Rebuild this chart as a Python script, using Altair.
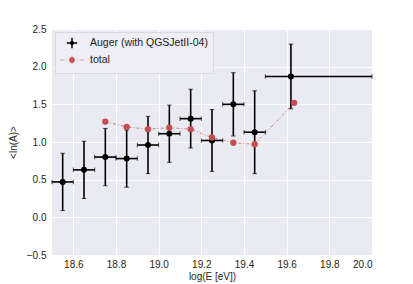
import altair as alt
import pandas as pd

# Auger data (with QGSJetII-04)
auger_x = [18.55, 18.65, 18.75, 18.85, 18.95, 19.05, 19.15, 19.25, 19.35, 19.45, 19.62]
auger_xlo = [18.5, 18.6, 18.7, 18.8, 18.9, 19.0, 19.1, 19.2, 19.3, 19.4, 19.5]
auger_xhi = [18.6, 18.7, 18.8, 18.9, 19.0, 19.1, 19.2, 19.3, 19.4, 19.5, 20.0]
auger_y = [0.47, 0.63, 0.80, 0.78, 0.96, 1.11, 1.31, 1.02, 1.50, 1.13, 1.87]
auger_err = [0.38, 0.38, 0.38, 0.38, 0.38, 0.38, 0.39, 0.41, 0.42, 0.55, 0.43]

# total model
total_x = [18.75, 18.85, 18.95, 19.05, 19.15, 19.25, 19.35, 19.45, 19.635]
total_y = [1.27, 1.20, 1.17, 1.19, 1.17, 1.06, 0.99, 0.97, 1.52]

series_names = ["Auger (with QGSJetII-04)", "total"]
x_ticks = [18.6, 18.8, 19.0, 19.2, 19.4, 19.6, 19.8, 20.0]
y_ticks = [-0.5, 0.0, 0.5, 1.0, 1.5, 2.0, 2.5]

RED = "#C44E52"

auger = pd.DataFrame({
    "x": auger_x, "xlo": auger_xlo, "xhi": auger_xhi, "y": auger_y,
    "ylo": [a - e for a, e in zip(auger_y, auger_err)],
    "yhi": [a + e for a, e in zip(auger_y, auger_err)],
})
total = pd.DataFrame({"x": total_x, "y": total_y})
legend_df = pd.DataFrame({"series": series_names, "x": [19.0, 19.0], "y": [0.0, 0.0]})

lab = "replace(format(datum.value, '.1f'), '-', '\u2212')"
xs = alt.Scale(domain=[18.5, 20.0], nice=False, zero=False)
ys = alt.Scale(domain=[-0.5, 2.5], nice=False, zero=False)
xax = alt.Axis(values=x_ticks, labelExpr=lab, title="log(E [eV])", grid=True,
               labelOverlap=False, labelPadding=4, titlePadding=2, tickCount=8)
yax = alt.Axis(values=y_ticks, labelExpr=lab, title="<ln(A)>", grid=True,
               labelOverlap=False, labelPadding=6, titlePadding=8, tickCount=7)


def XE(f):
    return alt.X(f"{f}:Q", scale=xs, axis=xax)


def YE(f):
    return alt.Y(f"{f}:Q", scale=ys, axis=yax)


base_a = alt.Chart(auger)
vbars = base_a.mark_rule(color="black", strokeWidth=1.6).encode(
    x=XE("x"), y=YE("ylo"), y2="yhi:Q")
hbars = base_a.mark_rule(color="black", strokeWidth=1.6).encode(
    x=XE("xlo"), x2="xhi:Q", y=YE("y"))
cap_lo = base_a.mark_tick(color="black", thickness=1, size=4.5, orient="horizontal").encode(
    x=XE("x"), y=YE("ylo"))
cap_hi = base_a.mark_tick(color="black", thickness=1, size=4.5, orient="horizontal").encode(
    x=XE("x"), y=YE("yhi"))
hcap_lo = base_a.mark_tick(color="black", thickness=1, size=4.5, orient="vertical").encode(
    x=XE("xlo"), y=YE("y"))
hcap_hi = base_a.mark_tick(color="black", thickness=1, size=4.5, orient="vertical").encode(
    x=XE("xhi"), y=YE("y"))
apts = base_a.mark_circle(color="black", size=36, opacity=1).encode(x=XE("x"), y=YE("y"))

base_t = alt.Chart(total)
tline = base_t.mark_line(color=RED, strokeWidth=1, strokeDash=[3, 2, 1, 2], opacity=0.7).encode(
    x=XE("x"), y=YE("y"))
tpts = base_t.mark_circle(color=RED, size=40, opacity=1).encode(x=XE("x"), y=YE("y"))


# legend symbols built only from filled shapes (thin rectangles + circle)
def circ(r):
    return f"M{r},0A{r},{r} 0 1 1 -{r},0A{r},{r} 0 1 1 {r},0Z"


auger_sym = "M-1,-0.14H1V0.14H-1ZM-0.14,-1H0.14V1H-0.14Z" + circ(0.42)
total_sym = ("M-2.3,-0.06H-1.5V0.06H-2.3Z"
             "M-1.2,-0.06H-1.0V0.06H-1.2Z"
             "M1.0,-0.06H1.2V0.06H1.0Z"
             "M1.5,-0.06H2.3V0.06H1.5Z"
             "M-0.04,-0.8H0.04V0.8H-0.04Z" + circ(0.55))

legend_layer = alt.Chart(legend_df).transform_filter("false").mark_point(filled=True, opacity=1).encode(
    x=XE("x"),
    y=YE("y"),
    color=alt.Color("series:N", scale=alt.Scale(domain=series_names, range=["black", RED]),
                    legend=alt.Legend(title=None, orient="top-left", offset=3,
                                      fillColor="#EEEEF4", strokeColor="#DADAE2",
                                      padding=5, symbolSize=110, symbolOffset=6,
                                      labelFontSize=10.5, labelColor="#222222",
                                      labelFont="Liberation Sans", rowPadding=0,
                                      symbolOpacity=1, labelOffset=12)),
    shape=alt.Shape("series:N", scale=alt.Scale(domain=series_names, range=[auger_sym, total_sym])),
)

chart = alt.layer(tline, vbars, hbars, cap_lo, cap_hi, hcap_lo, hcap_hi, apts, tpts, legend_layer).properties(
    width=320, height=226,
    autosize=alt.AutoSizeParams(type="none"),
    padding={"left": 44, "top": 21, "right": 33, "bottom": 28},
).configure_view(
    fill="#EAEAF2", stroke=None
).configure_axis(
    gridColor="white", gridWidth=1, domain=False, ticks=False,
    labelFont="Liberation Sans", labelFontSize=10, labelColor="#262626",
    titleFont="Liberation Sans", titleFontSize=10, titleColor="#262626",
    titleFontWeight="normal",
)

chart.save("out.html", embed_options={"renderer": "svg", "actions": False})
